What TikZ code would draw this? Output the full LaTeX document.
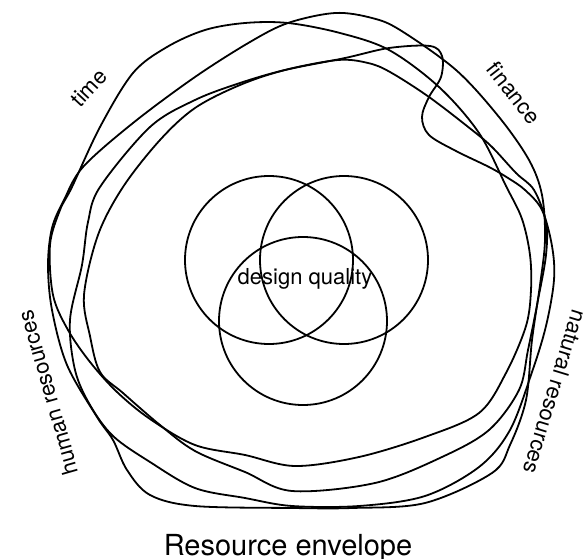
\documentclass[tikz,border=0pt]{standalone}
\usepackage{fontspec}
\setmainfont{TeX Gyre Heros}
\usetikzlibrary{positioning}
\tikzstyle{ring}=[circle, draw, line width=1.8pt, inner sep=0pt, minimum size=168pt]
\tikzstyle{envelope}=[draw, line width=1.8pt, line join=round]
\tikzstyle{lab}=[font=\fontsize{22}{26}\selectfont, inner sep=0pt]

\begin{document}
\begin{tikzpicture}[x=1pt, y=-1pt]
\useasboundingbox (0,0) rectangle (584,559);
% three circles of design quality
\node[ring] (qa) at (269,260) {};
\node[ring] (qb) at (344,260) {};
\node[ring] (qc) at (303,321) {};
\node[lab, anchor=base] (dq) at (305,284) {design quality};
% the envelope, drawn by hand four times
\draw[envelope] plot[smooth cycle, tension=0.55] coordinates {
  (50,245) (60,210) (72,187) (100,127) (133,73) (167,47) (205,30) (245,23)
  (288,23) (340,33) (389,50) (439,87) (479,133) (506,186) (522,219) (530,255)
  (531,290) (526,326) (506,373) (479,413) (425,437) (359,457) (295,466)
  (245,455) (195,445) (150,419) (117,392) (90,362) (68,330) (53,295)};
\draw[envelope] plot[smooth cycle, tension=0.55] coordinates {
  (48,265) (52,228) (64,200) (83,167) (133,123) (195,77) (250,42) (288,23)
  (335,13) (372,18) (400,30) (456,70) (499,117) (529,160) (542,195) (545,240)
  (540,285) (532,340) (526,400) (510,445) (492,473) (425,503) (352,508)
  (292,508) (195,506) (150,495) (127,470) (113,440) (97,417) (67,365) (52,310)};
\draw[envelope] plot[smooth cycle, tension=0.55] coordinates {
  (82,265) (88,222) (100,187) (150,127) (195,100) (240,83) (285,70) (345,58)
  (389,48) (430,46) (442,56) (441,77) (429,97) (422,117) (429,135) (456,151)
  (489,167) (508,178) (525,190) (542,210) (552,246) (554,280) (546,326)
  (532,372) (510,430) (479,467) (425,496) (359,506) (292,506) (245,498)
  (195,488) (150,462) (113,436) (90,405) (75,370) (70,320)};
\draw[envelope] plot[smooth cycle, tension=0.55] coordinates {
  (123,187) (160,140) (195,108) (240,85) (285,70) (338,60) (368,63) (390,72)
  (429,97) (472,130) (492,147) (516,173) (534,190) (546,222) (546,255)
  (538,300) (528,350) (519,390) (489,430) (442,457) (375,483) (292,491)
  (245,472) (195,451) (160,425) (123,393) (100,372) (90,336) (84,295) (98,235)};
% resource labels
\node[lab, rotate=47] (time) at (89,88) {time};
\node[lab, rotate=-52] (fin) at (514,93) {finance};
\node[lab, rotate=106] (hum) at (48,393) {human resources};
\node[lab, rotate=-107] (nat) at (555,392) {natural resources};
\node[lab, font=\fontsize{29}{33}\selectfont, anchor=base] (env) at (288,555) {Resource envelope};
\end{tikzpicture}
\end{document}
